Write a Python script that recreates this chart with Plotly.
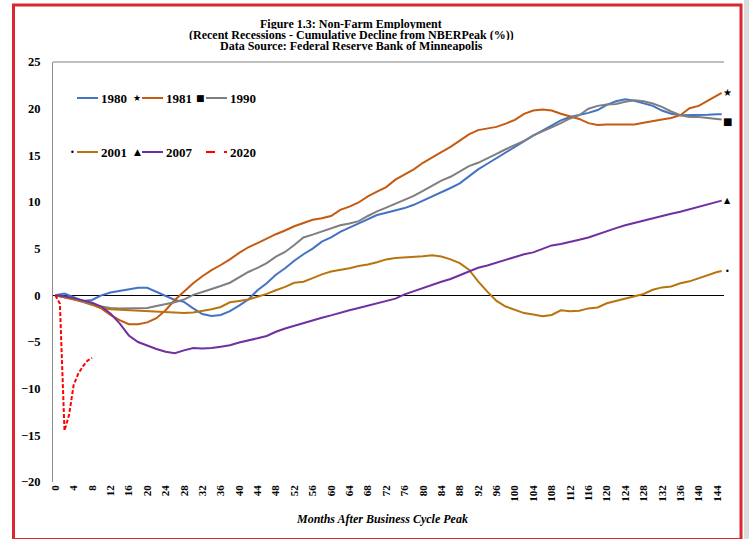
import plotly.graph_objects as go

# ---------------- data ----------------
months = list(range(0, 145, 2)) + [145]

s1980 = [0, 0.2, -0.2, -0.6, -0.5, 0.0, 0.3, 0.45, 0.6, 0.8, 0.8, 0.35, -0.1, -0.5, -0.7, -1.4,
         -2.0, -2.2, -2.1, -1.7, -1.1, -0.45, 0.55, 1.3, 2.2, 2.9, 3.7, 4.4, 5.0, 5.75, 6.2,
         6.8, 7.25, 7.7, 8.1, 8.6, 8.85, 9.1, 9.35, 9.7, 10.15, 10.55, 11.0, 11.5, 12.0, 12.8,
         13.5, 14.1, 14.7, 15.3, 15.95, 16.55, 17.1, 17.65, 18.2, 18.75, 19.1, 19.3, 19.55,
         19.85, 20.4, 20.8, 21.0, 20.85, 20.55, 20.3, 19.8, 19.45, 19.3, 19.3, 19.3, 19.35,
         19.4, 19.4]

s1981 = [0, -0.2, -0.45, -0.7, -1.0, -1.4, -2.1, -2.65, -3.1, -3.1, -2.9, -2.45, -1.6, -0.5,
         0.4, 1.3, 2.05, 2.7, 3.25, 3.85, 4.55, 5.15, 5.6, 6.1, 6.55, 6.95, 7.4, 7.75, 8.1,
         8.25, 8.5, 9.15, 9.5, 9.95, 10.6, 11.1, 11.6, 12.4, 12.95, 13.5, 14.2, 14.8, 15.35,
         15.9, 16.6, 17.25, 17.7, 17.9, 18.05, 18.4, 18.8, 19.45, 19.8, 19.9, 19.8, 19.45,
         19.2, 18.9, 18.45, 18.25, 18.3, 18.3, 18.3, 18.3, 18.5, 18.7, 18.85, 19.0, 19.3,
         20.05, 20.3, 20.85, 21.4, 21.7]

s1990 = [0, -0.2, -0.4, -0.7, -1.0, -1.2, -1.35, -1.4, -1.4, -1.4, -1.35, -1.15, -0.95, -0.75,
         -0.45, 0.05, 0.35, 0.65, 1.0, 1.35, 1.95, 2.5, 2.95, 3.45, 4.15, 4.65, 5.4, 6.2, 6.5,
         6.85, 7.2, 7.5, 7.7, 7.95, 8.5, 9.0, 9.4, 9.8, 10.25, 10.65, 11.2, 11.75, 12.3, 12.7,
         13.3, 13.85, 14.2, 14.65, 15.15, 15.65, 16.1, 16.55, 17.15, 17.55, 18.0, 18.45,
         18.95, 19.3, 20.0, 20.3, 20.45, 20.5, 20.75, 20.9, 20.8, 20.55, 20.2, 19.7, 19.3,
         19.1, 19.1, 19.0, 18.9, 18.85]

s2001 = [0, -0.2, -0.4, -0.6, -1.0, -1.35, -1.5, -1.55, -1.6, -1.65, -1.7, -1.75, -1.85, -1.9,
         -1.9, -1.85, -1.7, -1.5, -1.25, -0.75, -0.6, -0.45, -0.15, 0.15, 0.55, 0.9, 1.35,
         1.45, 1.85, 2.25, 2.55, 2.7, 2.9, 3.15, 3.3, 3.55, 3.85, 4.0, 4.05, 4.15, 4.2, 4.3,
         4.15, 3.85, 3.45, 2.75, 1.5, 0.4, -0.6, -1.2, -1.55, -1.9, -2.05, -2.25, -2.1, -1.6,
         -1.7, -1.65, -1.4, -1.3, -0.85, -0.6, -0.4, -0.15, 0.15, 0.6, 0.85, 0.95, 1.3, 1.5,
         1.85, 2.2, 2.5, 2.6]

s2007 = [0, -0.1, -0.3, -0.55, -0.8, -1.2, -1.95, -3.0, -4.3, -5.0, -5.4, -5.75, -6.05, -6.2,
         -5.9, -5.65, -5.7, -5.65, -5.5, -5.35, -5.05, -4.85, -4.6, -4.35, -3.9, -3.55, -3.25,
         -3.0, -2.65, -2.4, -2.15, -1.85, -1.6, -1.35, -1.1, -0.85, -0.6, -0.35, 0.1, 0.45,
         0.75, 1.15, 1.45, 1.75, 2.15, 2.55, 2.95, 3.2, 3.5, 3.8, 4.1, 4.4, 4.6, 4.95, 5.35,
         5.5, 5.7, 5.95, 6.2, 6.55, 6.9, 7.2, 7.5, 7.75, 8.0, 8.3, 8.55, 8.75, 8.95, 9.2,
         9.45, 9.7, 10.0, 10.15]

months_2020 = [0, 1, 2, 3, 4, 5, 6, 7, 8]
s2020 = [0, -0.9, -14.5, -12.8, -9.6, -8.4, -7.6, -7.0, -6.7]

# end-of-line marker series (marker only, just beyond the last month)
end_month = 146.2
end_1981 = 21.7
end_1990 = 18.6
end_2001 = 2.55
end_2007 = 10.15

x_tick_vals = list(range(0, 145, 4))
x_tick_text = [str(v) for v in x_tick_vals]
y_tick_vals = [-20, -15, -10, -5, 0, 5, 10, 15, 20, 25]

title_lines = ["Figure 1.3: Non-Farm Employment",
               "(Recent Recessions - Cumulative Decline from NBERPeak (%))",
               "Data Source: Federal Reserve Bank of Minneapolis"]
x_title = "Months After Business Cycle Peak"

# ---------------- styling ----------------
C1980 = "#4472C4"
C1981 = "#C55A11"
C1990 = "#7F7F7F"
C2001 = "#B8740F"
C2007 = "#7030A0"
C2020 = "#FF0000"
SERIF = "Liberation Serif"

W, H = 749, 539
L, R, T, B = 53, 724, 62, 482  # plot area in pixels
X_RANGE = [-0.5, 145.5]
Y_RANGE = [-20, 25]


def px(x):
    return (x - L) / (R - L)


def py(y):
    return (B - y) / (B - T)


def x_to_paper(v):
    # position along the x axis (same linear scale as the axis), for marks just outside it
    return (v - X_RANGE[0]) / (X_RANGE[1] - X_RANGE[0])


fig = go.Figure()
line_series = [("1980", months, s1980, C1980, None),
               ("1981", months, s1981, C1981, None),
               ("1990", months, s1990, C1990, None),
               ("2001", months, s2001, C2001, None),
               ("2007", months, s2007, C2007, None),
               ("2020", months_2020, s2020, C2020, "4px,2px")]
for name, xs, ys, col, dash in line_series:
    fig.add_trace(go.Scatter(x=xs, y=ys, mode="lines", name=name,
                             line=dict(color=col, width=2, dash=dash),
                             showlegend=False))

shapes = []
annotations = []

# end markers (just right of the plot area)
for sym, val, size in [("★", end_1981, 10), ("■", end_1990, 10),
                       ("•", end_2001, 8), ("▲", end_2007, 8)]:
    annotations.append(dict(text=sym, xref="paper", yref="y", x=x_to_paper(end_month),
                            y=val, showarrow=False, xanchor="center", yanchor="middle",
                            font=dict(family="DejaVu Sans", size=size, color="black")))

# plot top border
shapes.append(dict(type="line", xref="paper", yref="paper", x0=0, x1=1, y0=1, y1=1,
                   line=dict(color="#808080", width=1)))
# outer red frame and grey margin on the right
shapes.append(dict(type="rect", xref="paper", yref="paper",
                   x0=px(744), x1=px(760), y0=py(-5), y1=py(560),
                   fillcolor="#DCDCDC", line=dict(width=0), layer="below"))
shapes.append(dict(type="rect", xref="paper", yref="paper",
                   x0=px(13.5), x1=px(741), y0=py(5), y1=py(539.5),
                   line=dict(color="#D9262F", width=3), fillcolor="rgba(0,0,0,0)"))

# title lines
for text, ypix in zip(title_lines, [23.5, 35, 46]):
    annotations.append(dict(text=text, xref="paper", yref="paper", x=px(351), y=py(ypix),
                            showarrow=False, xanchor="center", yanchor="middle",
                            height=10, valign="middle",
                            font=dict(family=SERIF, size=12, color="black", weight="bold")))

# x axis title
annotations.append(dict(text="<i>" + x_title + "</i>", xref="paper", yref="paper",
                        x=px(382), y=py(519), showarrow=False, xanchor="center",
                        yanchor="middle",
                        font=dict(family=SERIF, size=12, color="black", weight="bold")))

# manual legend
legend_rows = [
    [("1980", C1980, None, 77, None), ("1981", C1981, None, 142, ("★", 137)),
     ("1990", C1990, None, 206, ("■", 200))],
    [("2001", C2001, None, 77, ("•", 72)), ("2007", C2007, None, 142, ("▲", 137)),
     ("2020", C2020, "dash", 206, None)],
]
for row, ypix in zip(legend_rows, [98, 152]):
    for name, col, dash, x0, mark in row:
        shapes.append(dict(type="line", xref="paper", yref="paper",
                           x0=px(x0), x1=px(x0 + 21), y0=py(ypix), y1=py(ypix),
                           line=dict(color=col, width=2, dash=dash)))
        annotations.append(dict(text=name, xref="paper", yref="paper", x=px(x0 + 22),
                                y=py(ypix), showarrow=False, xanchor="left",
                                yanchor="middle",
                                font=dict(family=SERIF, size=13, color="black",
                                          weight="bold")))
        if mark:
            sym, mx = mark
            annotations.append(dict(text=sym, xref="paper", yref="paper", x=px(mx),
                                    y=py(ypix), showarrow=False, xanchor="center",
                                    yanchor="middle",
                                    font=dict(family="DejaVu Sans",
                                              size=9 if sym != "•" else 8,
                                              color="black")))

fig.update_layout(
    width=W, height=H,
    margin=dict(l=L, r=W - R, t=T, b=H - B, autoexpand=False),
    paper_bgcolor="white", plot_bgcolor="white",
    shapes=shapes, annotations=annotations,
    showlegend=False,
    xaxis=dict(range=X_RANGE, tickmode="array", tickvals=x_tick_vals,
               ticktext=x_tick_text, tickangle=-90, showgrid=False, zeroline=False,
               showline=False, ticks="", automargin=False,
               tickfont=dict(family=SERIF, size=11, color="black", weight="bold")),
    yaxis=dict(range=Y_RANGE, tickmode="array", tickvals=y_tick_vals, showgrid=False,
               zeroline=True, zerolinecolor="black", zerolinewidth=1.3,
               showline=True, linecolor="#8C8C8C", linewidth=1, ticks="",
               ticklabelstandoff=9, automargin=False,
               tickfont=dict(family=SERIF, size=12.5, color="black", weight="bold")),
)

fig.write_html("out.html",
               config={"displayModeBar": False},
               post_script="document.body.style.margin='0px';"
                           "document.body.style.overflow='hidden';")
